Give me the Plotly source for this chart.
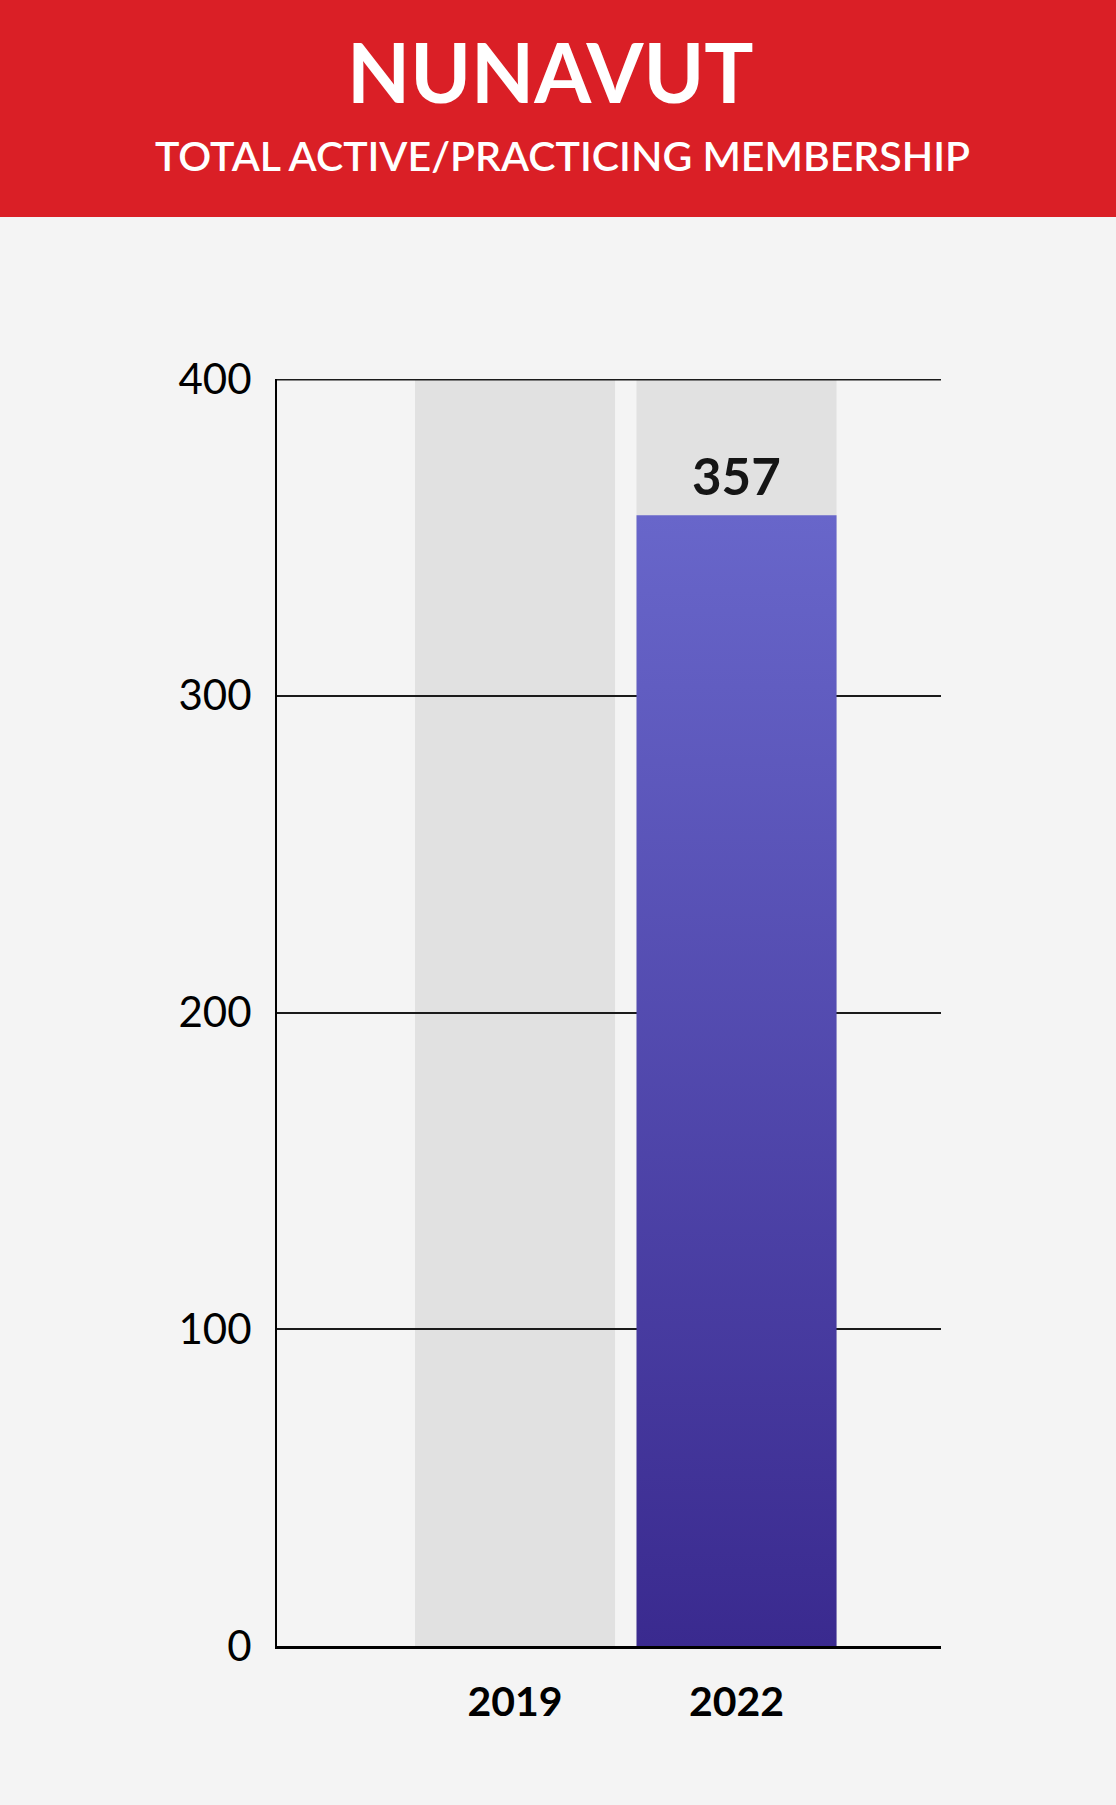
import plotly.graph_objects as go

# ---- data ----
years = ["2019", "2022"]
values = [None, 357]
y_ticks = [0, 100, 200, 300, 400]
y_max = 400
title = "NUNAVUT"
subtitle = "TOTAL ACTIVE/PRACTICING MEMBERSHIP"

# ---- style ----
BG = "#f4f4f4"
RED = "#da1f26"
COL_BG = "#e1e1e1"
BAR_TOP = "#6866ca"
BAR_BOT = "#3a2a8f"
GRID = "#1a1a1a"
W, H = 1116, 1805
L, R, T, B = 277, 175, 379, 159
bar_w = 0.903
FONT = "Lato"

fig = go.Figure()

xs = list(range(len(years)))

# grey background columns (full scale), below gridlines
shapes = []
for i in xs:
    shapes.append(dict(type="rect", xref="x", yref="y", x0=i - bar_w / 2, x1=i + bar_w / 2,
                       y0=0, y1=y_max, fillcolor=COL_BG, line=dict(width=0), layer="below"))

# top gridline at the axis maximum (plotly skips the gridline at the range edge;
# half of the stroke is clipped by the plot area, hence the doubled width)
shapes.append(dict(type="line", xref="paper", yref="y", x0=0, x1=1, y0=y_max, y1=y_max,
                   line=dict(color=GRID, width=3), layer="above"))

# header band
shapes.append(dict(type="rect", xref="paper", yref="paper", x0=-1, x1=2,
                   y0=(H - B - 217) / (H - T - B), y1=3, fillcolor=RED,
                   line=dict(width=0), layer="above"))

# value bars with vertical gradient
annotations = []
for i, v in zip(xs, values):
    if v is None:
        continue
    x0, x1 = i - bar_w / 2, i + bar_w / 2
    fig.add_trace(go.Scatter(
        x=[x0, x1, x1, x0, x0], y=[0, 0, v, v, 0],
        mode="lines", fill="toself", line=dict(width=0),
        fillgradient=dict(type="vertical",
                          colorscale=[[0, BAR_BOT], [1, BAR_TOP]]),
        hoverinfo="skip", showlegend=False))
    annotations.append(dict(x=i, y=v, xref="x", yref="y", text=f"<b>{v}</b>",
                            showarrow=False, yanchor="middle", yshift=40,
                            font=dict(family=FONT, size=51, color="#151515")))

ph = H - T - B
annotations.append(dict(x=(550 - L) / (W - L - R), y=(H - B - 71) / ph, xref="paper", yref="paper",
                        text=f"<b>{title}</b>", showarrow=False,
                        xanchor="center", yanchor="middle",
                        font=dict(family=FONT, size=82, color="white", weight=900)))
annotations.append(dict(x=(562 - L) / (W - L - R), y=(H - B - 156) / ph, xref="paper", yref="paper",
                        text=subtitle, showarrow=False, xanchor="center", yanchor="middle",
                        font=dict(family=FONT, size=41, color="white", weight=600)))

fig.update_layout(
    width=W, height=H,
    margin=dict(l=L, r=R, t=T, b=B, pad=0),
    paper_bgcolor=BG, plot_bgcolor=BG,
    shapes=shapes, annotations=annotations,
    showlegend=False,
    xaxis=dict(range=[-1.0745, 1.923], tickvals=xs, ticktext=[f"<b>{y}</b>" for y in years],
               showgrid=False, zeroline=False, showline=True, linecolor="#000000",
               linewidth=3, ticks="", ticklabelstandoff=18,
               tickfont=dict(family=FONT, size=41, color="#000000"), fixedrange=True),
    yaxis=dict(range=[0, y_max], tickvals=y_ticks, showgrid=True, gridcolor=GRID,
               gridwidth=1.5, zeroline=False, showline=True, linecolor="#000000",
               linewidth=2, ticks="", ticklabelstandoff=15,
               tickfont=dict(family=FONT, size=42, color="#000000"), fixedrange=True),
)

fig.write_html("out.html", config={"displayModeBar": False},
               post_script="document.body.style.margin='0';document.body.style.background='#f4f4f4';")
